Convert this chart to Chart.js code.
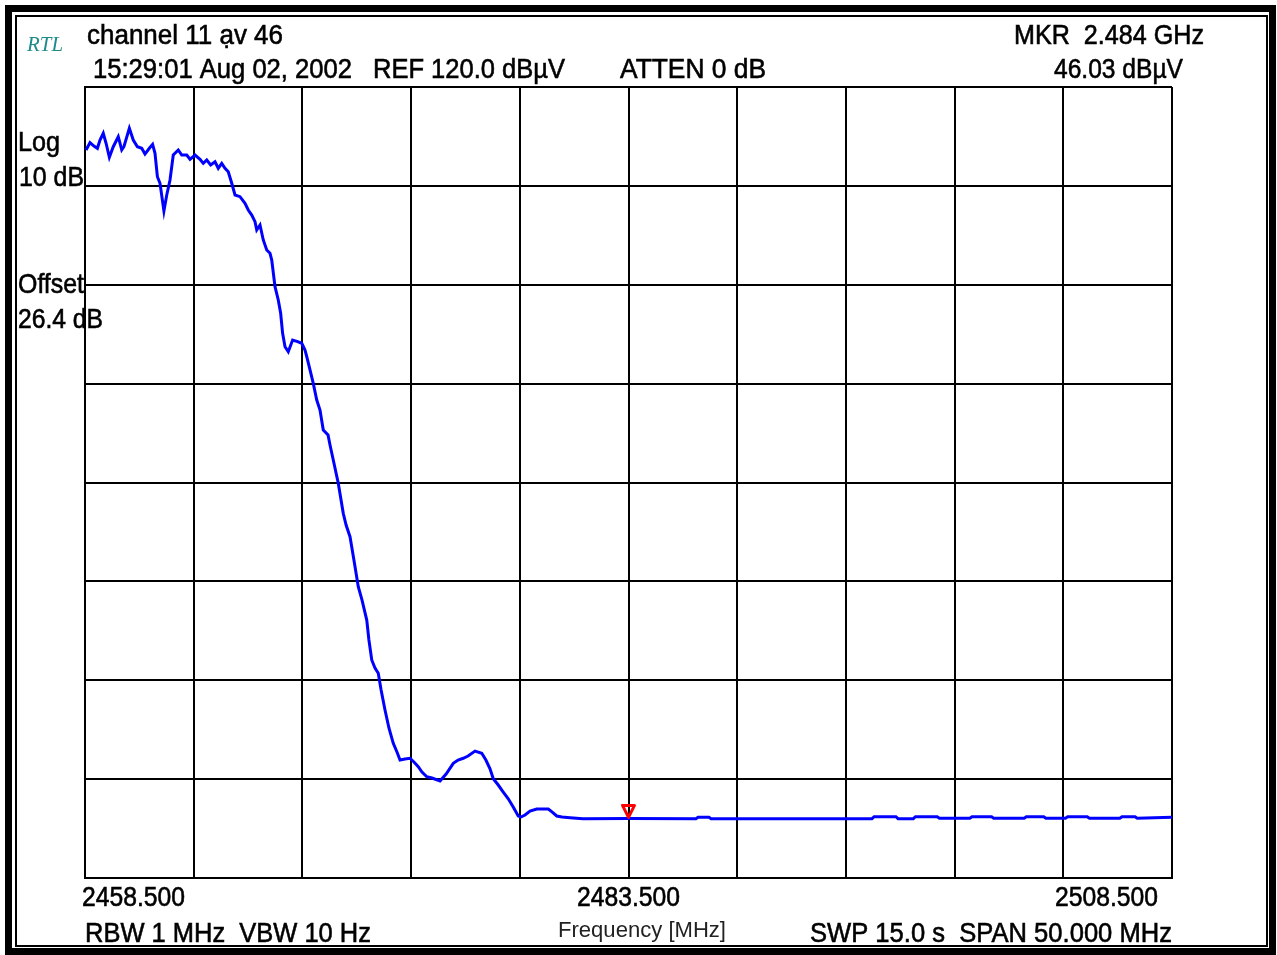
<!DOCTYPE html>
<html>
<head>
<meta charset="utf-8">
<title>channel 11 av 46</title>
<script src="https://cdn.jsdelivr.net/npm/chart.js@4"></script>
<style>
  html, body { margin: 0; padding: 0; background: #fff; }
  #wrap { width: 1277px; height: 955px; }
</style>
</head>
<body>
<div id="wrap"><canvas id="spectrum" width="1277" height="955"></canvas></div>
<script>
// trace (MHz, dBµV)
const freqMHz = [
  2458.55,2458.73,2458.91,2459.07,2459.19,2459.34,2459.47,2459.62,2459.80,2460.03,
  2460.19,2460.29,2460.54,2460.72,2460.91,2461.11,2461.26,2461.46,2461.61,2461.72,
  2461.83,2461.95,2462.13,2462.26,2462.41,2462.56,2462.79,2462.95,2463.18,2463.33,
  2463.56,2463.79,2463.94,2464.10,2464.28,2464.48,2464.63,2464.79,2464.94,2465.09,
  2465.25,2465.40,2465.63,2465.86,2466.01,2466.17,2466.32,2466.40,2466.55,2466.70,
  2466.86,2467.01,2467.09,2467.24,2467.39,2467.50,2467.59,2467.70,2467.85,2468.05,
  2468.28,2468.47,2468.62,2468.70,2468.85,2469.00,2469.16,2469.31,2469.46,2469.68,
  2469.77,2469.92,2470.15,2470.38,2470.51,2470.69,2470.87,2471.07,2471.24,2471.46,
  2471.56,2471.69,2471.84,2471.99,2472.12,2472.30,2472.48,2472.68,2472.85,2472.99,
  2473.22,2473.45,2473.63,2473.83,2474.00,2474.22,2474.46,2474.83,2475.11,2475.44,
  2475.66,2475.90,2476.12,2476.44,2476.75,2476.94,2477.13,2477.28,2477.50,2477.73,
  2477.97,2478.19,2478.43,2478.56,2478.74,2478.97,2479.28,2479.52,2479.81,2479.98,
  2480.20,2480.44,2480.81,2481.41,
  2483.50,2486.60,2486.70,2487.20,2487.30,2494.70,2494.80,2495.80,2495.90,2496.60,
  2496.70,2497.70,2497.80,2499.20,2499.30,2500.20,2500.30,2501.70,2501.80,2502.60,
  2502.70,2503.60,2503.70,2504.60,2504.70,2506.10,2506.20,2506.80,2506.90,2508.50
];
const levelDbuV = [
  113.63,114.37,114.03,113.80,114.64,115.32,114.31,112.89,113.96,114.97,
  113.63,113.96,115.82,114.64,113.96,113.80,113.22,113.80,114.20,113.29,
  110.93,110.26,107.46,109.08,110.59,113.12,113.63,113.12,113.12,112.69,
  113.12,112.69,112.28,112.62,112.11,112.44,111.78,112.28,111.78,111.43,
  110.26,109.08,108.91,108.24,107.56,107.05,106.38,105.54,106.04,104.53,
  103.51,103.18,102.50,99.80,98.46,97.11,95.09,93.73,93.23,94.41,
  94.24,94.08,93.40,92.72,91.38,90.03,88.34,87.33,85.31,84.80,
  83.79,82.28,79.92,76.88,75.70,74.52,72.16,69.46,68.12,66.09,
  64.07,62.05,61.24,60.70,59.01,56.99,55.17,53.62,52.74,51.93,
  52.04,52.11,51.73,51.26,50.72,50.24,50.11,49.81,50.52,51.60,
  51.93,52.11,52.34,52.84,52.61,51.93,51.05,50.04,49.43,48.72,
  48.01,47.20,46.27,46.17,46.37,46.76,46.98,46.98,46.98,46.68,
  46.27,46.17,46.10,46.00,
  46.03,46.00,46.15,46.15,46.00,46.00,46.20,46.20,46.00,46.00,
  46.20,46.20,46.05,46.05,46.20,46.20,46.05,46.05,46.20,46.20,
  46.05,46.05,46.20,46.20,46.05,46.05,46.20,46.20,46.05,46.15
];

// grid divisions: 5 MHz/div, 10 dB/div, ref level 120 dBµV
const freqGrid = [2458.5,2463.5,2468.5,2473.5,2478.5,2483.5,2488.5,2493.5,2498.5,2503.5,2508.5];
const levelGrid = [40,50,60,70,80,90,100,110,120];
const freqLabelValues = [2458.5, 2483.5, 2508.5];
const freqLabels = ['2458.500', '2483.500', '2508.500'];

// marker
const markerFreq = 2483.5;
const markerLevel = 46.03;

const FONT = '"Liberation Sans", Arial, sans-serif';

// draws text squeezed/stretched to a given width (the analyzer font is narrow)
function fitText(ctx, str, x, y, size, width, opts) {
    opts = opts || {};
    ctx.save();
    ctx.font = (opts.style || '') + ' ' + size + 'px ' + (opts.family || FONT);
    ctx.fillStyle = opts.color || '#000';
    ctx.strokeStyle = opts.color || '#000';
    ctx.lineWidth = opts.heavy === false ? 0 : 0.6;
    ctx.textBaseline = 'alphabetic';
    ctx.textAlign = 'left';
    const w = ctx.measureText(str).width;
    const sx = width / w;
    let left = x;
    if (opts.align === 'center') left = x - width / 2;
    if (opts.align === 'right') left = x - width;
    ctx.translate(left, y);
    ctx.scale(sx, 1);
    ctx.fillText(str, 0, 0);
    if (opts.heavy !== false) ctx.strokeText(str, 0, 0);
    ctx.restore();
}

const screenPlugin = {
    id: 'screen',
    afterDraw(chart) {
        const ctx = chart.ctx;
        const xs = chart.scales.x, ys = chart.scales.y;

        // double frame around the screen dump
        ctx.save();
        ctx.strokeStyle = '#000';
        ctx.lineWidth = 7;
        ctx.strokeRect(8.5, 8.5, 1264, 943);
        ctx.lineWidth = 2;
        ctx.strokeRect(16, 16, 1251, 930);
        ctx.restore();

        // header
        fitText(ctx, 'RTL', 27, 51, 22, 36, {family: '"Liberation Serif", serif', style: 'italic', color: '#1f8a8a', heavy: false});
        fitText(ctx, 'channel 11 ạv 46', 87, 44, 28, 196);
        fitText(ctx, '15:29:01 Aug 02, 2002', 93, 78, 28, 259);
        fitText(ctx, 'REF 120.0 dBµV', 373, 78, 28, 192);
        fitText(ctx, 'ATTEN 0 dB', 620, 78, 28, 146);
        fitText(ctx, 'MKR  2.484 GHz', 1204, 44, 28, 190, {align: 'right'});
        fitText(ctx, '46.03 dBµV', 1183, 78, 28, 129, {align: 'right'});

        // scale info at the left
        fitText(ctx, 'Log', 18, 151, 28, 42);
        fitText(ctx, '10 dB', 19, 186, 28, 65);
        fitText(ctx, 'Offset', 18, 293, 28, 66);
        fitText(ctx, '26.4 dB', 18, 328, 28, 85);

        // frequency labels under the grid
        const aligns = ['left', 'center', 'right'];
        const shifts = [-3, 0, -14];
        freqLabelValues.forEach((v, i) => {
            const px = xs.getPixelForValue(v) + shifts[i];
            fitText(ctx, freqLabels[i], px, 906, 28, 103, {align: aligns[i]});
        });
        fitText(ctx, 'RBW 1 MHz  VBW 10 Hz', 85, 942, 28, 286);
        fitText(ctx, 'Frequency [MHz]', 558, 937, 22, 168, {color: '#222', heavy: false});
        fitText(ctx, 'SWP 15.0 s  SPAN 50.000 MHz', 1172, 942, 28, 362, {align: 'right'});

        // marker triangle, tip on the trace
        const mx = xs.getPixelForValue(markerFreq);
        const my = ys.getPixelForValue(markerLevel);
        ctx.save();
        ctx.strokeStyle = '#ff0000';
        ctx.lineWidth = 3;
        ctx.lineJoin = 'round';
        ctx.beginPath();
        ctx.moveTo(mx - 6, my - 13);
        ctx.lineTo(mx + 6, my - 13);
        ctx.lineTo(mx, my - 1);
        ctx.closePath();
        ctx.stroke();
        ctx.restore();
    }
};

const gridOpts = {color: '#000', lineWidth: 2, drawTicks: false};

new Chart(document.getElementById('spectrum').getContext('2d'), {
    type: 'line',
    data: {
        datasets: [{
            data: freqMHz.map((f, i) => ({x: f, y: levelDbuV[i]})),
            borderColor: '#0000ff',
            borderWidth: 3,
            pointRadius: 0,
            tension: 0,
            fill: false
        }]
    },
    options: {
        responsive: false,
        animation: false,
        layout: {padding: {left: 85, top: 87, right: 105, bottom: 77}},
        plugins: {legend: {display: false}, tooltip: {enabled: false}},
        scales: {
            x: {
                type: 'linear',
                min: freqGrid[0],
                max: freqGrid[freqGrid.length - 1],
                afterBuildTicks: (s) => { s.ticks = freqGrid.map(v => ({value: v})); },
                ticks: {display: false},
                grid: gridOpts,
                border: {display: true, color: '#000', width: 2}
            },
            y: {
                type: 'linear',
                min: levelGrid[0],
                max: levelGrid[levelGrid.length - 1],
                afterBuildTicks: (s) => { s.ticks = levelGrid.map(v => ({value: v})); },
                ticks: {display: false},
                grid: gridOpts,
                border: {display: true, color: '#000', width: 2}
            }
        }
    },
    plugins: [screenPlugin]
});
</script>
</body>
</html>
